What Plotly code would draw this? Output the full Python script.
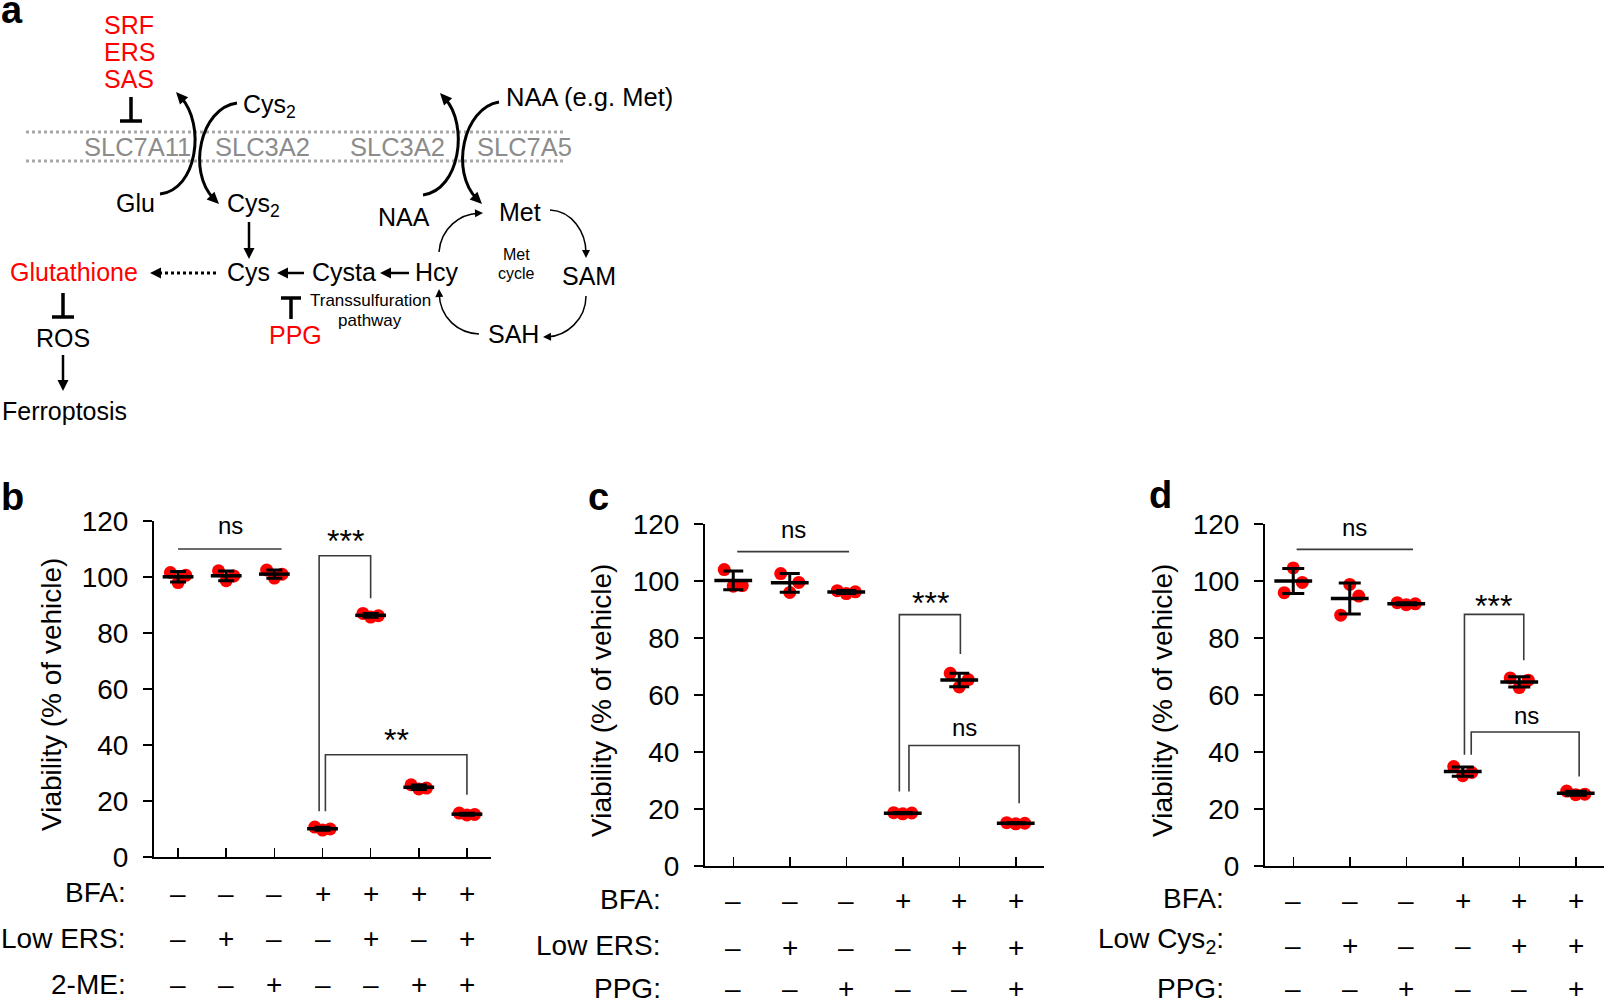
import numpy as np
import plotly.graph_objects as go

W, H = 1604, 998
FONT = "Liberation Sans, Arial, Helvetica, sans-serif"
RED = "#ff0000"
MEMBRANE_GREY = "#a8a8a8"
LABEL_GREY = "#8c8c8c"
BRACKET_GREY = "#3a3a3a"
DIAG = 25  # diagram font size

# ---------------- data ----------------
Y_TICKS = [0, 20, 40, 60, 80, 100, 120]
JITTER = [-0.16, 0.0, 0.16]

groups_b = [1, 2, 3, 4, 5, 6, 7]
viability_b = [
    [101.6, 98.0, 100.6],
    [102.2, 98.7, 100.4],
    [102.5, 99.6, 101.0],
    [10.7, 9.6, 10.0],
    [87.0, 85.7, 86.2],
    [25.8, 24.3, 24.6],
    [15.7, 15.0, 15.2],
]
groups_c = [1, 2, 3, 4, 5, 6]
viability_c = [
    [104.0, 98.2, 98.4],
    [102.6, 96.0, 99.5],
    [96.6, 95.6, 96.2],
    [18.7, 18.3, 18.6],
    [67.6, 62.8, 65.4],
    [15.2, 14.8, 15.0],
]
groups_d = [1, 2, 3, 4, 5, 6]
viability_d = [
    [95.9, 104.6, 99.5],
    [88.0, 98.8, 94.7],
    [92.4, 91.7, 92.0],
    [34.9, 31.7, 32.8],
    [66.0, 62.6, 65.2],
    [26.3, 25.0, 25.2],
]

sig_labels_b = ["ns", "***", "**"]
sig_labels_c = ["ns", "***", "ns"]
sig_labels_d = ["ns", "***", "ns"]

treat_labels_b = ["BFA:", "Low ERS:", "2-ME:"]
treat_signs_b = ["---++++", "-+--+-+", "--+--++"]
treat_labels_c = ["BFA:", "Low ERS:", "PPG:"]
treat_signs_c = ["---+++", "-+--++", "--+--+"]
treat_labels_d = ["BFA:", "Low Cys<sub>2</sub>:", "PPG:"]
treat_signs_d = ["---+++", "-+--++", "--+--+"]

# ---------------- helpers ----------------
def fx(x):
    return x / W


def fy(y):
    return 1 - y / H


def P(x, y):
    return f"{fx(x):.5f},{fy(y):.5f}"


shapes = []
annotations = []


def text(x, y, s, size=DIAG, color="black", xanchor="center", yanchor="middle",
         bold=False, xref="paper", yref="paper", angle=0):
    annotations.append(dict(
        x=fx(x) if xref == "paper" else x,
        y=fy(y) if yref == "paper" else y,
        xref=xref, yref=yref,
        text=f"<b>{s}</b>" if bold else s,
        showarrow=False, xanchor=xanchor, yanchor=yanchor, textangle=angle,
        font=dict(family=FONT, size=size, color=color)))


def seg(x0, y0, x1, y1, width=2.5, color="black", dash=None):
    shapes.append(dict(type="line", xref="paper", yref="paper",
                       x0=fx(x0), y0=fy(y0), x1=fx(x1), y1=fy(y1),
                       line=dict(color=color, width=width, dash=dash)))


def head(tx, ty, ux, uy, L=11, w=5.5):
    n = np.hypot(ux, uy)
    ux, uy = ux / n, uy / n
    bx, by = tx - L * ux, ty - L * uy
    nx, ny = -uy, ux
    path = (f"M {P(tx, ty)} L {P(bx + w * nx, by + w * ny)} "
            f"L {P(bx - w * nx, by - w * ny)} Z")
    shapes.append(dict(type="path", xref="paper", yref="paper", path=path,
                       fillcolor="black", line=dict(width=0)))


def arrow(x0, y0, x1, y1, width=2.5, L=11, w=5.5, dash=None):
    ux, uy = x1 - x0, y1 - y0
    n = np.hypot(ux, uy)
    ux, uy = ux / n, uy / n
    seg(x0, y0, x1 - 0.6 * L * ux, y1 - 0.6 * L * uy, width, dash=dash)
    head(x1, y1, ux, uy, L, w)


def curve(p0, c1, c2, tip, width=3, L=12, w=5.5):
    ux, uy = tip[0] - c2[0], tip[1] - c2[1]
    n = np.hypot(ux, uy)
    ux, uy = ux / n, uy / n
    end = (tip[0] - 0.6 * L * ux, tip[1] - 0.6 * L * uy)
    path = f"M {P(*p0)} C {P(*c1)} {P(*c2)} {P(*end)}"
    shapes.append(dict(type="path", xref="paper", yref="paper", path=path,
                       fillcolor="rgba(0,0,0,0)", line=dict(color="black", width=width)))
    head(tip[0], tip[1], ux, uy, L, w)


# ---------------- panel a : pathway diagram ----------------
text(12, 10, "a", size=38, bold=True)

# membrane
seg(26, 132, 563, 132, width=3, color=MEMBRANE_GREY, dash="dot")
seg(26, 161, 563, 161, width=3, color=MEMBRANE_GREY, dash="dot")
for lbl, cx in [("SLC7A11", 137), ("SLC3A2", 262), ("SLC3A2", 397), ("SLC7A5", 524)]:
    text(cx, 147, lbl, size=25.5, color=LABEL_GREY)

# inhibitors
for lbl, cy in [("SRF", 25), ("ERS", 52.5), ("SAS", 79)]:
    text(129, cy, lbl, color=RED)
seg(131, 97, 131, 121, width=3.5)
seg(120, 121, 142, 121, width=3.5)

# transporters
curve((160, 194), (197, 190), (206, 125), (176, 92))
curve((237, 103), (200, 108), (187, 172), (219, 204))
curve((423, 195), (460, 190), (469, 125), (440, 93))
curve((499, 102), (463, 108), (450, 172), (482, 204))

text(241, 106, "Cys<sub>2</sub>", xanchor="left")
text(135, 203, "Glu")
text(225, 205, "Cys<sub>2</sub>", xanchor="left")
text(504, 97, "NAA (e.g. Met)", size=25.5, xanchor="left")
text(404, 217, "NAA")
text(520, 212, "Met")

# transsulfuration
arrow(249, 222, 249, 259)
text(249, 272, "Cys")
text(74, 272, "Glutathione", color=RED)
arrow(216, 273, 150, 273, width=3, dash="dot")
text(344, 272, "Cysta")
arrow(304, 273, 277, 273)
text(437, 272, "Hcy")
arrow(409, 273, 380, 273)
seg(291, 298, 291, 319, width=3.5)
seg(281, 298, 301, 298, width=3.5)
text(295, 335, "PPG", color=RED)
text(370, 300, "Transsulfuration", size=17)
text(370, 320, "pathway", size=17)

# glutathione -> ROS -> ferroptosis
seg(63, 293, 63, 317, width=3.5)
seg(52, 317, 74, 317, width=3.5)
text(63, 338, "ROS")
arrow(63, 355, 63, 391)
text(64, 411, "Ferroptosis")

# Met cycle
text(589, 276, "SAM")
text(513, 334, "SAH")
text(516, 255, "Met", size=16)
text(516, 274, "cycle", size=16)
curve((439, 252), (441, 228), (460, 214), (483, 213), width=1.5, L=8, w=4)
curve((550, 210), (572, 211), (586, 232), (586, 258), width=1.5, L=8, w=4)
curve((586, 296), (586, 320), (566, 336), (543, 337), width=1.5, L=8, w=4)
curve((479, 334), (458, 333), (440, 318), (439, 289), width=1.5, L=8, w=4)

# ---------------- panels b, c, d ----------------
PANELS = [
    dict(ax="", letter="b", letter_xy=(12, 497), dom_x=(154, 491), dom_y=(521, 857),
         groups=groups_b, vals=viability_b, mean_size=22, cap=8, ytitle_x=51,
         row_label_x=128, label_y=[892, 938, 984], sign_y=[893, 938, 984],
         labels=treat_labels_b, signs=treat_signs_b, sig=sig_labels_b,
         brackets=[dict(x0=1.0, x1=3.15, top=110.0, tx=2.08, ty=118.5),
                   dict(x0=3.93, x1=5.0, top=107.6, lb=16.3, rb=92.4, tx=4.48, ty=113.0),
                   dict(x0=4.06, x1=7.0, top=36.5, lb=16.3, rb=22.2, tx=5.54, ty=41.9)]),
    dict(ax="2", letter="c", letter_xy=(598, 497), dom_x=(705, 1044), dom_y=(524, 866),
         groups=groups_c, vals=viability_c, mean_size=27, cap=10, ytitle_x=601,
         row_label_x=663, label_y=[899, 945, 988], sign_y=[900, 947, 988],
         labels=treat_labels_c, signs=treat_signs_c, sig=sig_labels_c,
         brackets=[dict(x0=1.07, x1=3.05, top=110.3, tx=2.06, ty=118.0),
                   dict(x0=3.94, x1=5.02, top=88.2, lb=26.1, rb=74.4, tx=4.49, ty=92.3),
                   dict(x0=4.11, x1=6.06, top=42.3, lb=26.1, rb=22.0, tx=5.09, ty=48.5)]),
    dict(ax="3", letter="d", letter_xy=(1160, 495), dom_x=(1265, 1604), dom_y=(524, 866),
         groups=groups_d, vals=viability_d, mean_size=27, cap=11, ytitle_x=1162,
         row_label_x=1226, label_y=[898, 940, 988], sign_y=[900, 945, 988],
         labels=treat_labels_d, signs=treat_signs_d, sig=sig_labels_d,
         brackets=[dict(x0=1.06, x1=3.12, top=111.1, tx=2.09, ty=118.7),
                   dict(x0=4.03, x1=5.08, top=88.3, lb=39.0, rb=72.2, tx=4.54, ty=91.3),
                   dict(x0=4.15, x1=6.06, top=47.0, lb=39.0, rb=31.4, tx=5.12, ty=52.9)]),
]

layout_axes = {}
all_traces = []
for p in PANELS:
    ax = p["ax"]
    xa, ya = "x" + ax, "y" + ax
    n = len(p["groups"])
    layout_axes["xaxis" + ax] = dict(
        domain=[fx(p["dom_x"][0]), fx(p["dom_x"][1])], range=[0.5, n + 0.5],
        anchor=ya, showline=True, linecolor="black", linewidth=2,
        ticks="inside", ticklen=9, tickwidth=1.5, tickcolor="black",
        tickvals=p["groups"], showticklabels=False, showgrid=False,
        zeroline=False, fixedrange=True)
    layout_axes["yaxis" + ax] = dict(
        domain=[fy(p["dom_y"][1]), fy(p["dom_y"][0])], range=[0, 120],
        anchor=xa, showline=True, linecolor="black", linewidth=2,
        ticks="outside", ticklen=9, tickwidth=1.5, tickcolor="black",
        tickvals=Y_TICKS, tickfont=dict(family=FONT, size=28, color="black"),
        ticklabelstandoff=9, showgrid=False, zeroline=False, fixedrange=True)

    xs, ys = [], []
    for g, v in zip(p["groups"], p["vals"]):
        for j, val in zip(JITTER, v):
            xs.append(g + j)
            ys.append(val)
    all_traces.append(go.Scatter(
        x=xs, y=ys, mode="markers", xaxis=xa, yaxis=ya,
        marker=dict(color=RED, size=13, line=dict(width=0)),
        showlegend=False, hoverinfo="skip"))
    means = [float(np.mean(v)) for v in p["vals"]]
    sds = [float(np.std(v, ddof=1)) for v in p["vals"]]
    all_traces.append(go.Scatter(
        x=p["groups"], y=means, mode="markers", xaxis=xa, yaxis=ya,
        marker=dict(symbol="line-ew", size=p["mean_size"], color="black",
                    line=dict(width=3.5, color="black")),
        error_y=dict(type="data", array=sds, visible=True, color="black",
                     thickness=3, width=p["cap"]),
        showlegend=False, hoverinfo="skip"))

    # significance brackets
    for lbl, b in zip(p["sig"], p["brackets"]):
        if "lb" in b:
            path = (f"M {b['x0']},{b['lb']} L {b['x0']},{b['top']} "
                    f"L {b['x1']},{b['top']} L {b['x1']},{b['rb']}")
            shapes.append(dict(type="path", xref=xa, yref=ya, path=path,
                               fillcolor="rgba(0,0,0,0)",
                               line=dict(color=BRACKET_GREY, width=1.6)))
        else:
            shapes.append(dict(type="line", xref=xa, yref=ya, x0=b["x0"], x1=b["x1"],
                               y0=b["top"], y1=b["top"],
                               line=dict(color=BRACKET_GREY, width=1.6)))
        if "*" in lbl:
            text(b["tx"], b["ty"], lbl, size=32, xref=xa, yref=ya)
        else:
            text(b["tx"], b["ty"], lbl, size=24, xref=xa, yref=ya)

    # panel letter and y title
    text(p["letter_xy"][0], p["letter_xy"][1], p["letter"], size=38, bold=True)
    cy = (p["dom_y"][0] + p["dom_y"][1]) / 2 + 6
    text(p["ytitle_x"], cy, "Viability (% of vehicle)", size=28, angle=-90)

    # treatment table
    for lbl, signs, ly, sy in zip(p["labels"], p["signs"], p["label_y"], p["sign_y"]):
        text(p["row_label_x"], ly, lbl, size=28, xanchor="right")
        for g, s in zip(p["groups"], signs):
            text(g, sy, "+" if s == "+" else "\u2013", size=28, xref=xa)

fig = go.Figure()
for t in all_traces:
    fig.add_trace(t)

fig.update_layout(
    width=W, height=H,
    margin=dict(l=0, r=0, t=0, b=0, pad=0, autoexpand=False),
    paper_bgcolor="white", plot_bgcolor="white", hovermode=False,
    showlegend=False, font=dict(family=FONT, color="black"),
    shapes=shapes, annotations=annotations, **layout_axes)

fig.write_html("out.html", config={"displayModeBar": False, "staticPlot": True},
               post_script="document.body.style.margin='0';document.body.style.overflow='hidden';")
